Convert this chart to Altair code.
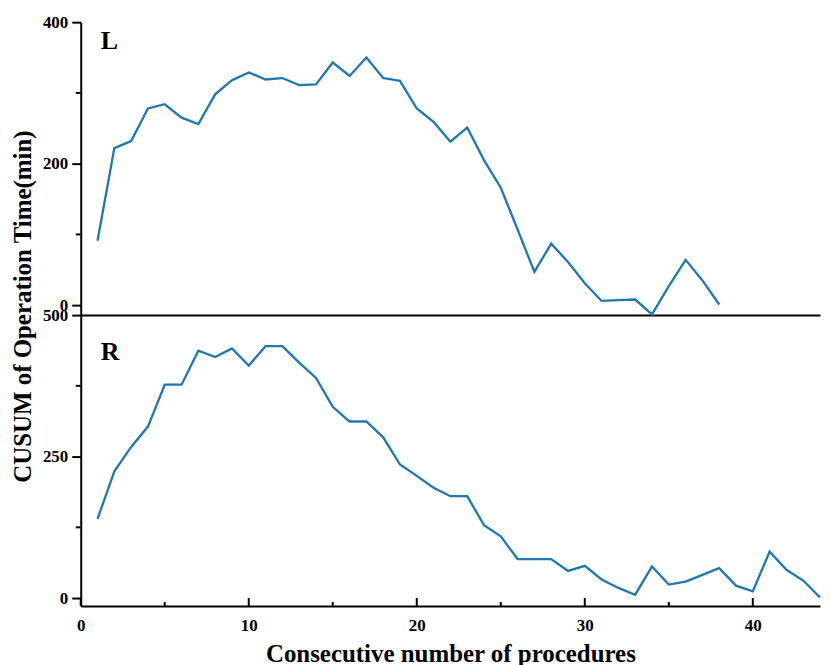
import altair as alt
import pandas as pd

FONT = "Liberation Serif"
BLUE = "#1f77b4"

# ---- data ----
x_L = list(range(1, 39))
cusum_L = [91, 222, 232, 278, 284, 265, 256, 298, 318, 329,
           319, 321, 311, 312, 343, 324, 350, 321, 317, 278,
           259, 231, 251, 205, 166, 107, 47, 87, 61, 31,
           6, 7, 8, -13, 27, 64, 35, 1]
x_R = list(range(1, 45))
cusum_R = [140, 224, 267, 303, 377, 377, 437, 426, 441, 411,
           445, 445, 416, 389, 338, 312, 312, 284, 236, 216,
           195, 180, 180, 129, 109, 69, 69, 69, 48, 57,
           33, 18, 6, 56, 24, 29, 41, 53, 22, 12,
           82, 50, 31, 1]

x_major = [0, 10, 20, 30, 40]
x_minor = [5, 15, 25, 35]
yL_major = [0, 200, 400]
yL_minor = [100, 300]
yR_major = [0, 250, 500]
yR_minor = [125, 375]

X_DOMAIN = [0, 44]
W = 742
H_TOP = 294
H_BOT = 292


def panel(xs, ys, label, y_dom, y_major, y_minor, height, bottom):
    df = pd.DataFrame({"x": xs, "y": ys})
    xscale = alt.Scale(domain=X_DOMAIN, nice=False, zero=False)
    yscale = alt.Scale(domain=y_dom, nice=False, zero=False)

    if bottom:
        xaxis = alt.Axis(values=x_major, ticks=False, labelPadding=12,
                         title="Consecutive number of procedures",
                         titleFontSize=25, titlePadding=8, labelFlush=False,
                         format="d")
        yaxis = alt.Axis(values=y_major, tickSize=9, labelPadding=4,
                         title="CUSUM of Operation Time(min)", titleAngle=270,
                         titleX=-58.5, titleY=-9, titleAlign="center",
                         titleBaseline="middle", titleFontSize=25, format="d")
    else:
        xaxis = alt.Axis(values=x_major, ticks=False, labels=False, title=None)
        yaxis = alt.Axis(values=y_major, tickSize=9, labelPadding=4, title=None,
                         format="d")

    line = alt.Chart(df).mark_line(color=BLUE, strokeWidth=2.3).encode(
        x=alt.X("x:Q", scale=xscale, axis=xaxis),
        y=alt.Y("y:Q", scale=yscale, axis=yaxis),
    )

    ymin = alt.Chart(pd.DataFrame({"y": y_minor})).mark_rule(
        color="black", strokeWidth=2).encode(
        y=alt.Y("y:Q", scale=yscale, axis=yaxis),
        x=alt.value(-5), x2=alt.value(0),
    )

    text = alt.Chart(pd.DataFrame({"t": [label]})).mark_text(
        font=FONT, fontSize=26, fontWeight="bold", align="left",
        baseline="alphabetic", color="black").encode(
        text="t:N", x=alt.value(20), y=alt.value(27 if label == "L" else 45),
    )

    layers = [line, ymin, text]
    if bottom:
        xmaj = alt.Chart(pd.DataFrame({"x": x_major})).mark_rule(
            color="black", strokeWidth=2).encode(
            x=alt.X("x:Q", scale=xscale, axis=xaxis),
            y=alt.value(height - 8), y2=alt.value(height),
        )
        xmin = alt.Chart(pd.DataFrame({"x": x_minor})).mark_rule(
            color="black", strokeWidth=2).encode(
            x=alt.X("x:Q", scale=xscale, axis=xaxis),
            y=alt.value(height - 4), y2=alt.value(height),
        )
        layers += [xmaj, xmin]

    return alt.layer(*layers).properties(width=W, height=height)


top = panel(x_L, cusum_L, "L", [-14, 400], yL_major, yL_minor, H_TOP, False)
bot = panel(x_R, cusum_R, "R", [-14, 500], yR_major, yR_minor, H_BOT, True)

chart = alt.vconcat(top, bot, spacing=0, bounds="flush").properties(
    padding={"left": 2, "top": 4, "right": 0, "bottom": 0}
).configure_view(stroke=None).configure_axis(
    domainColor="black", domainWidth=2, tickColor="black", tickWidth=2,
    labelFont=FONT, labelFontSize=17, labelFontWeight="bold", labelColor="black",
    titleFont=FONT, titleFontWeight="bold", titleColor="black", grid=False,
)

chart.save("out.html", embed_options={"renderer": "svg", "actions": False})
